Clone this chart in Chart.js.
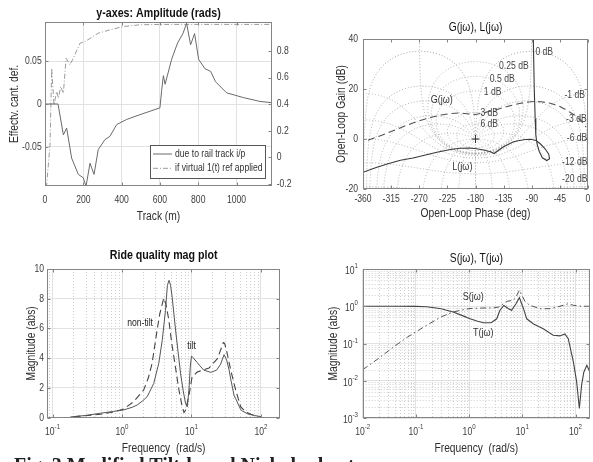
<!DOCTYPE html>
<html>
<head>
<meta charset="utf-8">
<script src="https://cdn.jsdelivr.net/npm/chart.js@4.4.1/dist/chart.umd.min.js"></script>
<style>
  html, body { margin: 0; padding: 0; background: #fff; overflow: hidden; }
  body { width: 593px; height: 462px; position: relative; }
  canvas { position: absolute; }
  #caption { position: absolute; left: 14px; top: 454px; line-height: 20px; font: bold 20px 'Liberation Serif', 'Times New Roman', serif; color: #222; white-space: nowrap; }
</style>
</head>
<body>
<canvas id="cTrack" width="296" height="232" style="left:0;top:0"></canvas>
<canvas id="cNichols" width="297" height="232" style="left:296px;top:0"></canvas>
<canvas id="cRide" width="296" height="230" style="left:0;top:232px"></canvas>
<canvas id="cST" width="297" height="230" style="left:296px;top:232px"></canvas>
<div id="caption">Fig. 3 Modified Tilt-based Nichols chart</div>
<script>
// -----------------------------------------
// DATA
// -----------------------------------------

// top-left: response along the track
const trackPos   = [0, 68, 96, 113, 139, 174, 200, 214, 235, 256, 278, 313, 339, 374, 426, 496, 600, 609, 618, 627, 661, 692, 720, 739, 760, 781, 802, 835, 865, 890, 948, 1035, 1122, 1185];
const trackRail  = [0, 0, -0.036, -0.028, -0.063, -0.082, -0.086, -0.096, -0.069, -0.082, -0.053, -0.0415, -0.0376, -0.024, -0.018, -0.0124, -0.0045, 0.016, 0.033, 0.023, 0.052, 0.071, 0.082, 0.094, 0.069, 0.082, 0.052, 0.041, 0.038, 0.026, 0.013, 0.0075, 0.003, 0.0015];
const stepPos    = [0, 9, 26, 35, 47, 61, 70, 82, 96, 110, 130, 148, 183, 209, 278, 339, 409, 496, 600, 1185];
const stepResp   = [-0.3, -0.2, 0.09, 0.67, 0.395, 0.495, 0.445, 0.533, 0.483, 0.746, 0.696, 0.746, 0.859, 0.871, 0.934, 0.959, 0.984, 0.997, 1.0, 1.0];
const trackTicks = [0, 200, 400, 600, 800, 1000];
const railTicks  = [-0.05, 0, 0.05];
const stepTicks  = [-0.2, 0, 0.2, 0.4, 0.6, 0.8];

// top-right: Nichols plot
const gPhase = [-352, -330, -310, -290, -270, -250, -235, -220, -205, -190, -180, -170, -155, -140, -125, -110, -95, -85, -75, -60, -45, -32, -20, -12, -6, -3.5];
const gGain  = [-0.5, 1.5, 3.5, 5.5, 7.3, 8.7, 9.6, 10.2, 10.4, 10.0, 9.8, 10.3, 11.2, 12.2, 13.3, 14.2, 14.8, 15.0, 14.9, 14.3, 13.0, 11.2, 9.3, 7.6, 5.8, 4.8];
const lPhase = [-87.5, -86, -84.5, -83.5, -81.5, -78, -73, -66, -61.5, -63, -69, -76, -83, -92, -100, -110, -120, -135, -143, -150, -155, -165, -178, -190, -205, -220, -240, -260, -280, -300, -320, -340, -360];
const lGain  = [40, 20, 8, 1.6, -2, -5, -7.5, -8.6, -7.9, -6, -3.8, -2.0, -0.6, -0.1, -0.2, -0.6, -1.2, -3.1, -4.5, -5.8, -5.2, -4.5, -3.9, -3.6, -3.7, -4.2, -5.2, -6.4, -7.6, -8.5, -9.9, -11.5, -13.3];
const phaseTicks    = [-360, -315, -270, -225, -180, -135, -90, -45, 0];
const gainTicks     = [-20, 0, 20, 40];
const gridGainsDb   = [6, 3, 1, 0.5, 0.25, 0, -1, -3, -6, -12, -20, -40];
const gridPhasesDeg = [1, 5, 10, 20, 30, 50, 90, 120, 150, 180];
const gridGainText  = ['0 dB', '0.25 dB', '0.5 dB', '1 dB', '3 dB', '6 dB', '-1 dB', '-3 dB', '-6 dB', '-12 dB', '-20 dB'];

// bottom-left: ride quality
const tiltFreq    = [0.18, 0.3, 0.49, 0.75, 1.05, 1.4, 1.65, 2.0, 2.3, 2.86, 3.38, 3.79, 4.22, 4.5, 4.75, 5.0, 5.27, 5.9, 6.95, 7.6, 8.2, 8.7, 9.2, 9.6, 10.0, 10.5, 12.1, 15, 19, 23, 26.3, 29.4, 32, 34.8, 36.7, 41, 43.3, 51, 54, 65, 80, 100];
const tiltMag     = [0.05, 0.15, 0.3, 0.42, 0.52, 0.7, 0.85, 1.15, 1.41, 2.3, 3.66, 5.2, 7.2, 8.9, 9.24, 8.9, 8.1, 5.9, 3.0, 1.8, 0.97, 0.72, 1.9, 3.4, 4.15, 4.05, 3.7, 3.2, 3.05, 3.2, 3.6, 4.24, 3.9, 3.2, 2.6, 1.5, 1.28, 0.55, 0.45, 0.25, 0.15, 0.07];
const nonTiltFreq = [0.2, 0.49, 0.75, 1.05, 1.47, 2.05, 2.4, 2.71, 3.2, 3.5, 3.99, 4.3, 4.71, 5.2, 5.57, 6.6, 7.3, 7.8, 8.2, 9.2, 10.2, 12.1, 13.5, 17.9, 23.6, 26.5, 28.8, 30, 32, 34.8, 36.7, 43.3, 51, 60, 71.5, 90];
const nonTiltMag  = [0.06, 0.23, 0.38, 0.58, 1.08, 1.86, 2.7, 3.66, 5.9, 7.0, 8.05, 7.6, 6.6, 5.0, 4.1, 1.86, 0.8, 0.35, 0.5, 1.5, 2.74, 3.07, 3.15, 3.34, 3.97, 4.6, 5.05, 5.0, 4.5, 3.7, 3.2, 1.86, 0.74, 0.4, 0.23, 0.1];
const rideTicks   = [0, 2, 4, 6, 8, 10];

// bottom-right: sensitivity / complementary sensitivity
const tFreq = [0.01, 0.05, 0.1, 0.16, 0.3, 0.5, 0.75, 1.04, 1.4, 1.85, 2.6, 3.3, 3.8, 4.5, 5.5, 6.3, 7.6, 8.8, 10.4, 12.1, 16, 24.7, 38, 51, 63, 73, 91, 105, 118, 130, 143, 163, 187];
const tMag  = [1.0, 1.0, 0.99, 0.97, 0.86, 0.70, 0.56, 0.46, 0.40, 0.36, 0.36, 0.46, 0.78, 1.05, 0.86, 0.78, 1.17, 1.7, 0.9, 0.46, 0.34, 0.25, 0.166, 0.16, 0.18, 0.135, 0.032, 0.0093, 0.0018, 0.0076, 0.017, 0.026, 0.017];
const sFreq = [0.01, 0.02, 0.0377, 0.07, 0.16, 0.3, 0.5, 0.75, 1.04, 2.0, 2.8, 3.6, 4.4, 5.1, 6.8, 7.8, 8.8, 10, 11.2, 13.8, 21.5, 33.3, 51, 73, 91, 130, 187];
const sMag  = [0.0198, 0.04, 0.08, 0.15, 0.31, 0.52, 0.7, 0.8, 0.87, 0.9, 0.9, 0.95, 1.17, 1.35, 1.45, 1.9, 2.7, 1.9, 1.35, 1.06, 0.86, 0.86, 1.0, 1.17, 1.06, 1.0, 1.0];
const freqDecades = [0.01, 0.1, 1, 10, 100];
const magDecades  = [0.001, 0.01, 0.1, 1, 10];

// -----------------------------------------
// STYLE
// -----------------------------------------
const FONT    = "'Liberation Sans', Arial, sans-serif";
const SQUEEZE = 0.82;            // the figure uses a narrow sans face
const TICK    = '#3c3c3c';
const LABEL   = '#2e2e2e';
const GRID    = '#e2e2e2';
const MINOR   = '#cfcfcf';
const FRAME   = '#858585';

function pts(xs, ys) { return xs.map((x, i) => ({ x, y: ys[i] })); }
function fixedTicks(values) { return s => { s.ticks = values.map(v => ({ value: v })); }; }

// -----------------------------------------
// TEXT HELPERS (condensed text on the canvas)
// -----------------------------------------
function setFont(ctx, size, weight) { ctx.font = `${weight || 'normal'} ${size}px ${FONT}`; }

function cText(ctx, text, x, y, o) {
  ctx.save();
  setFont(ctx, o.size, o.weight);
  ctx.fillStyle = o.color || '#333';
  ctx.textBaseline = 'middle';
  ctx.textAlign = o.align || 'center';
  ctx.translate(x, y);
  if (o.rotate) ctx.rotate(o.rotate);
  ctx.scale(SQUEEZE, 1);
  ctx.fillText(text, 0, 0);
  ctx.restore();
}

function textWidth(ctx, text, size) {
  setFont(ctx, size);
  return ctx.measureText(text).width * SQUEEZE;
}

// "10" with a raised exponent; (x, y) is where align points
function powText(ctx, value, x, y, align) {
  const exp = String(Math.round(Math.log10(value)));
  const bw = textWidth(ctx, '10', 10.5), ew = textWidth(ctx, exp, 7.5);
  const left = align === 'right' ? x - bw - ew : x - (bw + ew) / 2;
  cText(ctx, '10', left, y, { size: 10.5, color: TICK, align: 'left' });
  cText(ctx, exp, left + bw, y - 5, { size: 7.5, color: TICK, align: 'left' });
}

// -----------------------------------------
// PLUGINS
// -----------------------------------------

// titles, axis labels and tick labels
const axisText = {
  id: 'axisText',
  afterDraw(chart, args, o) {
    const { ctx, chartArea: a, scales } = chart;
    const cx = (a.left + a.right) / 2, cy = (a.top + a.bottom) / 2;
    (o.ticks || []).forEach(t => {
      const s = scales[t.scale];
      s.ticks.forEach(tk => {
        const p = s.getPixelForValue(tk.value);
        if (t.side === 'bottom') {
          if (t.log) powText(ctx, tk.value, p, a.bottom + t.gap, 'center');
          else cText(ctx, String(tk.value), p, a.bottom + t.gap, { size: 10.5, color: TICK });
        } else if (t.side === 'left') {
          if (t.log) powText(ctx, tk.value, a.left - t.gap, p + 2, 'right');
          else cText(ctx, String(tk.value), a.left - t.gap, p, { size: 10.5, color: TICK, align: 'right' });
        } else {
          cText(ctx, String(tk.value), a.right + t.gap, p, { size: 10.5, color: TICK, align: 'left' });
        }
      });
    });
    if (o.title) cText(ctx, o.title.text, cx, o.title.y, { size: o.title.size, weight: o.title.weight, color: '#111' });
    if (o.xTitle) cText(ctx, o.xTitle.text, cx, o.xTitle.y, { size: 12.5, color: LABEL });
    if (o.yTitle) cText(ctx, o.yTitle.text, o.yTitle.x, cy, { size: 12.5, color: LABEL, rotate: -Math.PI / 2 });
  }
};

// box round the plot plus inward tick marks
const frame = {
  id: 'frame',
  afterDatasetsDraw(chart, args, o) {
    const { ctx, chartArea: a, scales } = chart;
    const L = Math.round(a.left) + 0.5, R = Math.round(a.right) - 0.5;
    const T = Math.round(a.top) + 0.5, B = Math.round(a.bottom) - 0.5;
    ctx.save();
    ctx.strokeStyle = FRAME;
    ctx.lineWidth = 1;
    ctx.strokeRect(L, T, R - L, B - T);
    ctx.beginPath();
    Object.keys(o.sides || {}).forEach(side => {
      const s = scales[o.sides[side]];
      s.ticks.forEach(t => {
        const p = Math.round(s.getPixelForValue(t.value)) + 0.5;
        if (side === 'bottom') { ctx.moveTo(p, B); ctx.lineTo(p, B - 3); }
        if (side === 'top')    { ctx.moveTo(p, T); ctx.lineTo(p, T + 3); }
        if (side === 'left')   { ctx.moveTo(L, p); ctx.lineTo(L + 3, p); }
        if (side === 'right')  { ctx.moveTo(R, p); ctx.lineTo(R - 3, p); }
      });
    });
    ctx.stroke();
    ctx.restore();
  }
};

// dotted minor grid for log axes
const minorGrid = {
  id: 'minorGrid',
  beforeDatasetsDraw(chart, args, o) {
    const { ctx, chartArea: a, scales } = chart;
    ctx.save();
    ctx.strokeStyle = MINOR;
    ctx.lineWidth = 1;
    ctx.setLineDash([1, 2]);
    (o.axes || []).forEach(id => {
      const s = scales[id];
      const lo = Math.floor(Math.log10(s.min)), hi = Math.ceil(Math.log10(s.max));
      for (let e = lo; e <= hi; e++) {
        for (let m = 2; m <= 9; m++) {
          const v = m * Math.pow(10, e);
          if (v <= s.min || v >= s.max) continue;
          const p = Math.round(s.getPixelForValue(v)) + 0.5;
          ctx.beginPath();
          if (s.isHorizontal()) { ctx.moveTo(p, a.top); ctx.lineTo(p, a.bottom); }
          else { ctx.moveTo(a.left, p); ctx.lineTo(a.right, p); }
          ctx.stroke();
        }
      }
    });
    ctx.restore();
  }
};

// free text placed in data coordinates
const notes = {
  id: 'notes',
  afterDatasetsDraw(chart, args, o) {
    const { ctx, scales } = chart;
    (o.items || []).forEach(n => {
      cText(ctx, n.text, scales.x.getPixelForValue(n.x), scales.y.getPixelForValue(n.y),
        { size: n.size || 10.5, color: n.color || '#333' });
    });
  }
};

// legend box inside the plot
const boxLegend = {
  id: 'boxLegend',
  afterDatasetsDraw(chart, args, o) {
    const { ctx } = chart;
    ctx.save();
    ctx.fillStyle = '#fff';
    ctx.strokeStyle = '#555';
    ctx.lineWidth = 1;
    ctx.fillRect(o.x, o.y, o.w, o.h);
    ctx.strokeRect(o.x + 0.5, o.y + 0.5, o.w, o.h);
    chart.data.datasets.forEach((ds, i) => {
      const cy = o.y + 9 + i * 14.3;
      ctx.strokeStyle = ds.borderColor;
      ctx.setLineDash(ds.borderDash || []);
      ctx.beginPath();
      ctx.moveTo(o.x + 3, cy);
      ctx.lineTo(o.x + 22, cy);
      ctx.stroke();
      ctx.setLineDash([]);
      cText(ctx, ds.label, o.x + 25, cy, { size: 10.5, color: '#333', align: 'left' });
    });
    ctx.restore();
  }
};

// closed-loop gain / phase contours of a Nichols chart
const nicholsGrid = {
  id: 'nicholsGrid',
  beforeDatasetsDraw(chart, args, o) {
    const { ctx, chartArea: a, scales: { x, y } } = chart;
    ctx.save();
    ctx.beginPath();
    ctx.rect(a.left, a.top, a.width, a.height);
    ctx.clip();
    ctx.strokeStyle = '#a8a8a8';
    ctx.lineWidth = 1;
    ctx.setLineDash([1, 2]);

    const trace = list => {
      ctx.beginPath();
      let prev = null;
      list.forEach(([re, im]) => {
        const mag = Math.hypot(re, im);
        if (!(mag > 0) || !isFinite(mag)) { prev = null; return; }
        let ph = Math.atan2(im, re) * 180 / Math.PI;
        if (ph > 0) ph -= 360;
        const db = Math.max(-200, Math.min(200, 20 * Math.log10(mag)));
        const px = x.getPixelForValue(ph), py = y.getPixelForValue(db);
        if (prev === null || Math.abs(ph - prev) > 180) ctx.moveTo(px, py);
        else ctx.lineTo(px, py);
        prev = ph;
      });
      ctx.stroke();
    };

    // constant closed-loop magnitude
    o.gains.forEach(db => {
      const m = Math.pow(10, db / 20);
      const list = [];
      if (db === 0) {
        for (let t = -9; t <= 9; t += 0.02) list.push([-0.5, Math.sinh(t)]);
      } else {
        const c = m * m / (1 - m * m), r = Math.abs(m / (1 - m * m));
        for (let k = 0; k <= 1440; k++) {
          const al = k / 1440 * 2 * Math.PI;
          list.push([c + r * Math.cos(al), r * Math.sin(al)]);
        }
      }
      trace(list);
    });

    // constant closed-loop phase
    o.phases.forEach(deg => [deg, -deg].forEach(d => {
      const th = d * Math.PI / 180, list = [];
      for (let s = -9; s <= 9; s += 0.005) {
        const m = Math.exp(s), tr = m * Math.cos(th), ti = m * Math.sin(th);
        const dr = 1 - tr, di = -ti, den = dr * dr + di * di;
        list.push([(tr * dr + ti * di) / den, (ti * dr - tr * di) / den]);
      }
      trace(list);
    }));
    ctx.restore();
  }
};

function baseOptions(padding, plugins, scales) {
  return {
    responsive: false,
    animation: false,
    events: [],
    layout: { padding },
    plugins: Object.assign({ legend: { display: false }, tooltip: { enabled: false }, title: { display: false } }, plugins),
    scales
  };
}

function lineSet(label, xs, ys, color, dash, extra) {
  return Object.assign({
    label, data: pts(xs, ys), showLine: true, borderColor: color, borderWidth: 1,
    borderDash: dash || [], pointRadius: 0, tension: 0
  }, extra || {});
}

// common scale settings: text is drawn by axisText, sizes are pinned
function axis(extra, size) {
  const base = {
    grid: { color: GRID, drawTicks: false },
    border: { display: false },
    ticks: { display: false },
    title: { display: false }
  };
  if (size.w !== undefined) base.afterFit = s => { s.width = size.w; };
  if (size.h !== undefined) base.afterFit = s => { s.height = size.h; };
  return Object.assign(base, extra);
}

// -----------------------------------------
// TOP-LEFT: track response
// -----------------------------------------
new Chart(document.getElementById('cTrack'), {
  type: 'scatter',
  data: { datasets: [
    lineSet('due to rail track i/p', trackPos, trackRail, '#6a6a6a', [], { yAxisID: 'y' }),
    lineSet('if virtual 1(t) ref applied', stepPos, stepResp, '#9a9a9a', [5, 2, 1, 2], { yAxisID: 'y2' })
  ]},
  options: baseOptions({ top: 22, left: 0, right: 0, bottom: 0 }, {
    axisText: {
      title: { text: 'y-axes: Amplitude (rads)', size: 13, weight: 'bold', y: 13 },
      xTitle: { text: 'Track (m)', y: 217 },
      yTitle: { text: 'Effectv. cant. def.', x: 15 },
      ticks: [
        { scale: 'x', side: 'bottom', gap: 14 },
        { scale: 'y', side: 'left', gap: 3.3 },
        { scale: 'y2', side: 'right', gap: 4.7 }
      ]
    },
    frame: { sides: { bottom: 'x', top: 'x', left: 'y', right: 'y2' } },
    boxLegend: { x: 150, y: 145, w: 115, h: 33 }
  }, {
    x: axis({ type: 'linear', min: 0, max: 1185, afterBuildTicks: fixedTicks(trackTicks) }, { h: 46 }),
    y: axis({ position: 'left', min: -0.0955, max: 0.0955, afterBuildTicks: fixedTicks(railTicks) }, { w: 45 }),
    y2: axis({ position: 'right', min: -0.215, max: 1.018, afterBuildTicks: fixedTicks(stepTicks),
               grid: { display: false, drawTicks: false } }, { w: 24 })
  }),
  plugins: [frame, boxLegend, axisText]
});

// -----------------------------------------
// TOP-RIGHT: Nichols plot
// -----------------------------------------
new Chart(document.getElementById('cNichols'), {
  type: 'scatter',
  data: { datasets: [
    lineSet('G(jω)', gPhase, gGain, '#505050', [7, 4], { borderWidth: 1.1 }),
    lineSet('L(jω)', lPhase, lGain, '#3a3a3a', [], { borderWidth: 1.1 }),
    { label: 'critical point', data: [{ x: -180, y: 0 }], pointStyle: 'cross', pointRadius: 4, borderColor: '#333', borderWidth: 1 }
  ]},
  options: baseOptions({ top: 39, left: 0, right: 4.7, bottom: 0 }, {
    axisText: {
      title: { text: 'G(jω), L(jω)', size: 12.5, y: 28 },
      xTitle: { text: 'Open-Loop Phase (deg)', y: 214 },
      yTitle: { text: 'Open-Loop Gain (dB)', x: 45.7 },
      ticks: [
        { scale: 'x', side: 'bottom', gap: 10 },
        { scale: 'y', side: 'left', gap: 5 }
      ]
    },
    frame: { sides: { bottom: 'x', top: 'x', left: 'y', right: 'y' } },
    nicholsGrid: { gains: gridGainsDb, phases: gridPhasesDeg },
    notes: { items: [
      { text: gridGainText[0],  x: -70,    y: 34.9, color: '#444' },
      { text: gridGainText[1],  x: -118.6, y: 29.3, color: '#444' },
      { text: gridGainText[2],  x: -137.2, y: 24,   color: '#444' },
      { text: gridGainText[3],  x: -152.6, y: 18.9, color: '#444' },
      { text: gridGainText[4],  x: -158,   y: 10.5, color: '#444' },
      { text: gridGainText[5],  x: -158,   y: 6,    color: '#444' },
      { text: gridGainText[6],  x: -21.2,  y: 17.6, color: '#444' },
      { text: gridGainText[7],  x: -18.6,  y: 7.9,  color: '#444' },
      { text: gridGainText[8],  x: -17.5,  y: 0.3,  color: '#444' },
      { text: gridGainText[9],  x: -21.2,  y: -9.3, color: '#444' },
      { text: gridGainText[10], x: -21.2,  y: -16,  color: '#444' },
      { text: 'G(jω)', x: -234, y: 15.6, size: 11 },
      { text: 'L(jω)', x: -201, y: -11,  size: 11 }
    ] }
  }, {
    x: axis({ type: 'linear', min: -360, max: 0, afterBuildTicks: fixedTicks(phaseTicks), grid: { display: false } }, { h: 43 }),
    y: axis({ min: -20, max: 40, afterBuildTicks: fixedTicks(gainTicks), grid: { display: false } }, { w: 67 })
  }),
  plugins: [nicholsGrid, frame, notes, axisText]
});

// -----------------------------------------
// BOTTOM-LEFT: ride quality magnitude
// -----------------------------------------
new Chart(document.getElementById('cRide'), {
  type: 'scatter',
  data: { datasets: [
    lineSet('tilt', tiltFreq, tiltMag, '#555', []),
    lineSet('non-tilt', nonTiltFreq, nonTiltMag, '#444', [7, 4], { borderWidth: 1.1 })
  ]},
  options: baseOptions({ top: 37, left: 0, right: 16, bottom: 0 }, {
    axisText: {
      title: { text: 'Ride quality mag plot', size: 13, weight: 'bold', y: 23 },
      xTitle: { text: 'Frequency  (rad/s)', y: 216.3 },
      yTitle: { text: 'Magnitude (abs)', x: 31.7 },
      ticks: [
        { scale: 'x', side: 'bottom', gap: 14, log: true },
        { scale: 'y', side: 'left', gap: 3.3 }
      ]
    },
    frame: { sides: { bottom: 'x', top: 'x', left: 'y', right: 'y' } },
    minorGrid: { axes: ['x'] },
    notes: { items: [
      { text: 'non-tilt', x: 1.82, y: 6.39, color: '#222' },
      { text: 'tilt', x: 10.06, y: 4.82, color: '#222' }
    ] }
  }, {
    x: axis({ type: 'logarithmic', min: 0.084, max: 188, afterBuildTicks: fixedTicks(freqDecades.slice(1)) }, { h: 44.3 }),
    y: axis({ min: 0, max: 10, afterBuildTicks: fixedTicks(rideTicks) }, { w: 47.3 })
  }),
  plugins: [minorGrid, frame, notes, axisText]
});

// -----------------------------------------
// BOTTOM-RIGHT: S(jw), T(jw)
// -----------------------------------------
new Chart(document.getElementById('cST'), {
  type: 'scatter',
  data: { datasets: [
    lineSet('T(jω)', tFreq, tMag, '#444', [], { borderWidth: 1.1 }),
    lineSet('S(jω)', sFreq, sMag, '#555', [6, 3, 1.5, 3])
  ]},
  options: baseOptions({ top: 37, left: 0, right: 3, bottom: 0 }, {
    axisText: {
      title: { text: 'S(jω), T(jω)', size: 12.5, y: 26.3 },
      xTitle: { text: 'Frequency  (rad/s)', y: 216.3 },
      yTitle: { text: 'Magnitude (abs)', x: 37.3 },
      ticks: [
        { scale: 'x', side: 'bottom', gap: 14, log: true },
        { scale: 'y', side: 'left', gap: 4.7, log: true }
      ]
    },
    frame: { sides: { bottom: 'x', top: 'x', left: 'y', right: 'y' } },
    minorGrid: { axes: ['x', 'y'] },
    notes: { items: [
      { text: 'S(jω)', x: 1.2, y: 1.77, size: 11 },
      { text: 'T(jω)', x: 1.85, y: 0.195, size: 11 }
    ] }
  }, {
    x: axis({ type: 'logarithmic', min: 0.01, max: 187, afterBuildTicks: fixedTicks(freqDecades) }, { h: 44 }),
    y: axis({ type: 'logarithmic', min: 0.001, max: 10, afterBuildTicks: fixedTicks(magDecades) }, { w: 66.7 })
  }),
  plugins: [minorGrid, frame, notes, axisText]
});
</script>
</body>
</html>
